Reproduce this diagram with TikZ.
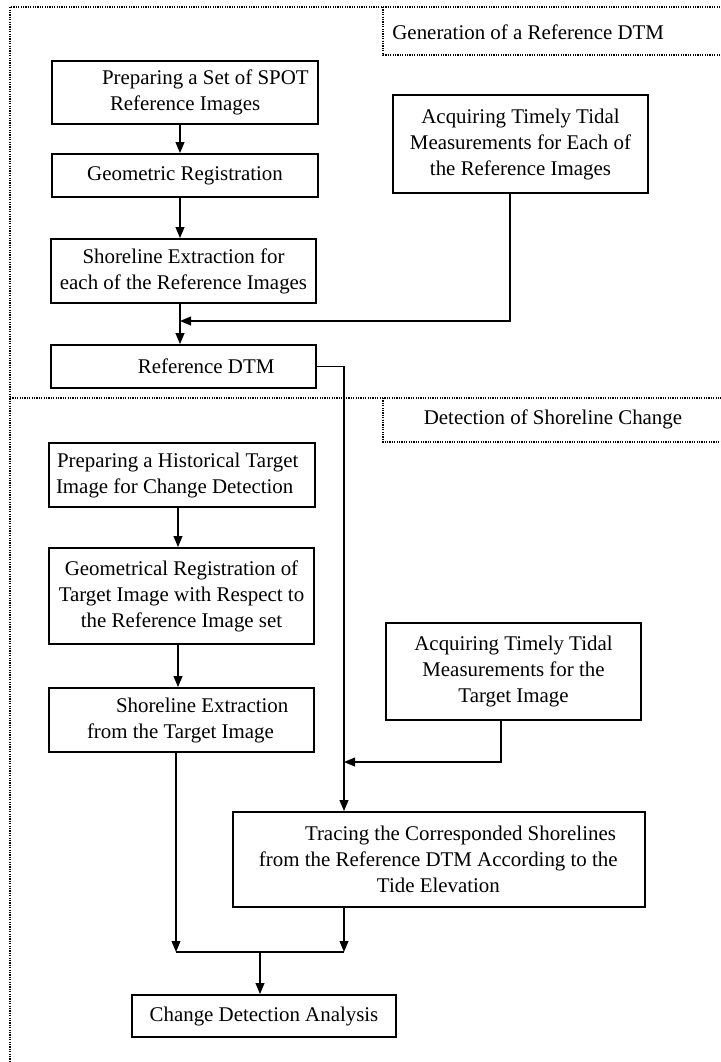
\documentclass[tikz,border=0pt]{standalone}
\usepackage{fontspec}
\setmainfont{Liberation Serif}
\usetikzlibrary{arrows.meta}
\begin{document}
\begin{tikzpicture}[x=0.5pt,y=-0.5pt,
  box/.style={draw,line width=0.9pt,inner sep=0pt,font=\fontsize{10.45}{13}\selectfont,align=center},
  conn/.style={line width=0.7pt},
  arr/.style={conn,-{Triangle[length=5.5pt,width=4.4pt]}},
  frame/.style={line width=0.8pt,dash pattern=on 0.6pt off 0.6pt},
  lbl/.style={font=\fontsize{10.45}{13}\selectfont,inner sep=0pt}]
\useasboundingbox (0,0) rectangle (721,1062);
% frame
\draw[frame] (10,1062) -- (10,7) -- (721,7);
\draw[frame] (10,398) -- (721,398);
\draw[frame] (383,7) -- (383,55) -- (721,55);
\draw[frame] (383,398) -- (383,442) -- (721,442);
\node[lbl,anchor=west] (L1) at (392,32) {Generation of a Reference DTM};
\node[lbl] (L2) at (553,419) {Detection of Shoreline Change};
% boxes
\node[box,text width=133pt,align=left,minimum height=31.5pt] (A) at (185,92.5) {\spaceskip=0pt\xspaceskip=0pt\relax\hspace*{25pt}Preparing a Set of SPOT\\\hspace*{29pt}Reference Images};
\node[box,minimum width=133pt,minimum height=21.5pt] (B) at (185,175.5) {Geometric Registration};
\node[box,minimum width=132.5pt,minimum height=32pt] (C) at (183.5,271) {Shoreline Extraction for\\each of the Reference Images};
\node[box,text width=132.5pt,align=left,minimum height=21.5pt] (D) at (183.5,366.5) {\spaceskip=0pt\xspaceskip=0pt\relax\hspace*{43.5pt}Reference DTM};
\node[box,minimum width=127.5pt,minimum height=49pt] (T1) at (520.5,144) {Acquiring Timely Tidal\\Measurements for Each of\\the Reference Images};
\node[box,text width=133pt,align=left,minimum height=32pt] (E) at (182,475) {\spaceskip=0pt\xspaceskip=0pt\relax\hspace*{4pt}Preparing a Historical Target\\\hspace*{3.5pt}Image for Change Detection};
\node[box,minimum width=132.5pt,minimum height=48pt] (F) at (181.5,596) {Geometrical Registration of\\Target Image with Respect to\\the Reference Image set};
\node[box,text width=132.5pt,align=left,minimum height=32pt] (G) at (181.5,720) {\spaceskip=0pt\xspaceskip=0pt\relax\hspace*{33.5pt}Shoreline Extraction\\\hspace*{19pt}from the Target Image};
\node[box,minimum width=127.5pt,minimum height=48.5pt] (T2) at (513.5,671.5) {Acquiring Timely Tidal\\Measurements for the\\Target Image};
\node[box,text width=206pt,align=left,minimum height=47.5pt] (H) at (439,859.5) {\spaceskip=0pt\xspaceskip=0pt\relax\hspace*{36pt}Tracing the Corresponded Shorelines\\\hspace*{13pt}from the Reference DTM According to the\\\hspace*{72pt}Tide Elevation};
\node[box,minimum width=132pt,minimum height=21pt] (K) at (264,1016) {Change Detection Analysis};
% connectors
\coordinate (x1) at (180,0);
\coordinate (j1) at (180,321);
\coordinate (x2) at (510,0);
\coordinate (x3) at (344,0);
\coordinate (x4) at (178,0);
\coordinate (x5) at (501,0);
\coordinate (j2) at (344,762);
\coordinate (xl) at (176,0);
\coordinate (m) at (260,952);
\draw[arr] (A.south -| x1) -- (B.north -| x1);
\draw[arr] (B.south -| x1) -- (C.north -| x1);
\draw[arr] (C.south -| x1) -- (D.north -| x1);
\draw[arr] (T1.south -| x2) |- (j1);
\draw[arr] (D.east) -| (x3 |- H.north);
\draw[arr] (E.south -| x4) -- (F.north -| x4);
\draw[arr] (F.south -| x4) -- (G.north -| x4);
\draw[arr] (T2.south -| x5) |- (j2);
\draw[arr] (G.south -| xl) -- (xl |- m);
\draw[arr] (H.south -| x3) -- (x3 |- m);
\draw[conn] (xl |- m) -- (x3 |- m);
\draw[arr] (m) -- (K.north -| m);
\end{tikzpicture}
\end{document}
